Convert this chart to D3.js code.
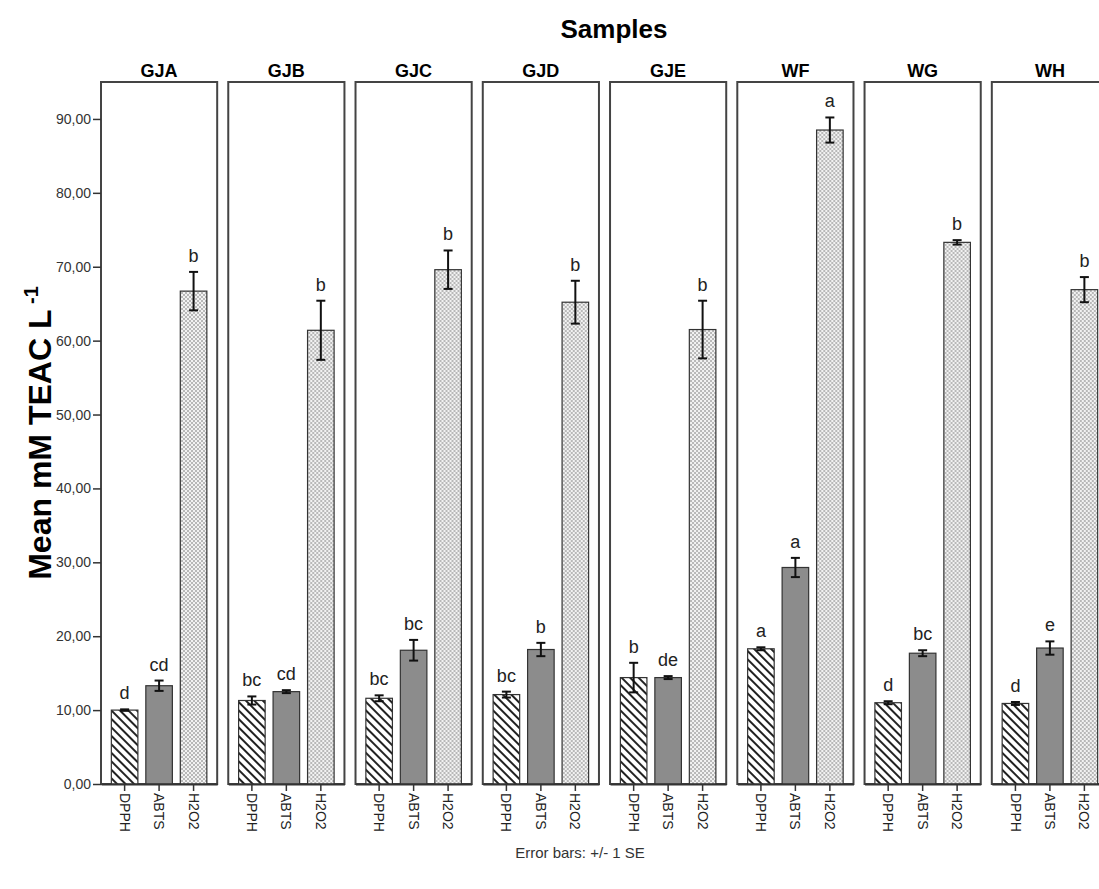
<!DOCTYPE html>
<html>
<head>
<meta charset="utf-8">
<script src="https://cdn.jsdelivr.net/npm/d3@7"></script>
<style>
  body { margin: 0; background: #fff; }
  svg { display: block; font-family: "Liberation Sans", Arial, sans-serif; }
</style>
</head>
<body>
<svg id="chart" width="1099" height="889"></svg>
<script>
const samples = ["GJA", "GJB", "GJC", "GJD", "GJE", "WF", "WG", "WH"]
const methods = ["DPPH", "ABTS", "H2O2"]

const dpphMean = [10.0, 11.3, 11.6, 12.1, 14.4, 18.3, 11.0, 10.9]
const dpphSE = [0.1, 0.55, 0.4, 0.4, 2.0, 0.2, 0.2, 0.2]
const abtsMean = [13.3, 12.5, 18.1, 18.2, 14.4, 29.3, 17.7, 18.4]
const abtsSE = [0.7, 0.2, 1.4, 0.9, 0.2, 1.3, 0.4, 0.9]
const h2o2Mean = [66.7, 61.4, 69.6, 65.2, 61.5, 88.5, 73.3, 66.9]
const h2o2SE = [2.6, 4.0, 2.6, 2.9, 3.9, 1.7, 0.3, 1.7]

const dpphLetters = ["d", "bc", "bc", "bc", "b", "a", "d", "d"]
const abtsLetters = ["cd", "cd", "bc", "b", "de", "a", "bc", "e"]
const h2o2Letters = ["b", "b", "b", "b", "b", "a", "b", "b"]

const yTicks = [0, 10, 20, 30, 40, 50, 60, 70, 80, 90]

// build rows from the arrays
let data = []
samples.forEach((s, i) => {
  data.push({ sample: s, method: "DPPH", mean: dpphMean[i], se: dpphSE[i], letter: dpphLetters[i] })
  data.push({ sample: s, method: "ABTS", mean: abtsMean[i], se: abtsSE[i], letter: abtsLetters[i] })
  data.push({ sample: s, method: "H2O2", mean: h2o2Mean[i], se: h2o2SE[i], letter: h2o2Letters[i] })
})

const margin = { top: 82, bottom: 105, left: 101 }
const width = 1099
const height = 889

let svg = d3.select("#chart")

/**
 * Fill patterns
 */
let defs = svg.append("defs")
let hatch = defs.append("pattern")
  .attr("id", "hatch")
  .attr("patternUnits", "userSpaceOnUse")
  .attr("width", 6)
  .attr("height", 6)
  .attr("patternTransform", "rotate(45)")
hatch.append("rect").attr("width", 6).attr("height", 6).attr("fill", "#fff")
hatch.append("line")
  .attr("x1", 0).attr("y1", 3).attr("x2", 6).attr("y2", 3)
  .attr("stroke", "#222").attr("stroke-width", 2)

let dots = defs.append("pattern")
  .attr("id", "dots")
  .attr("patternUnits", "userSpaceOnUse")
  .attr("width", 4)
  .attr("height", 4)
dots.append("rect").attr("width", 4).attr("height", 4).attr("fill", "#f2f2f2")
dots.append("rect").attr("width", 2).attr("height", 2).attr("fill", "#b8b8b8")
dots.append("rect").attr("x", 2).attr("y", 2).attr("width", 2).attr("height", 2).attr("fill", "#b8b8b8")

const fills = { DPPH: "url(#hatch)", ABTS: "#8c8c8c", H2O2: "url(#dots)" }

/**
 * Scales
 */
const panelScale = d3.scaleBand()
  .domain(samples)
  .range([margin.left, 1108])
  .paddingInner(0.087)
  .paddingOuter(0)

const xScale = d3.scaleBand()
  .domain(methods)
  .range([0, panelScale.bandwidth()])
  .paddingInner(0.23)
  .paddingOuter(0.3)

const yScale = d3.scaleLinear()
  .domain([0, 95])
  .range([height - margin.bottom, margin.top])

/**
 * Panels
 */
let panels = svg.selectAll(".panel")
  .data(samples)
  .enter()
  .append("g")
  .attr("class", "panel")
  .attr("transform", (d) => `translate(${panelScale(d)},0)`)

panels.append("rect")
  .attr("x", 0)
  .attr("y", margin.top)
  .attr("width", panelScale.bandwidth())
  .attr("height", yScale(0) - margin.top)
  .attr("fill", "none")
  .attr("stroke", "#444")
  .attr("stroke-width", 2)

panels.append("text")
  .attr("x", panelScale.bandwidth() / 2)
  .attr("y", 77)
  .attr("text-anchor", "middle")
  .attr("font-weight", "bold")
  .attr("font-size", 18)
  .text((d) => d)

// bars
panels.each(function (s) {
  let g = d3.select(this)
  let rows = data.filter((d) => d.sample === s)

  g.selectAll(".bar")
    .data(rows)
    .enter()
    .append("rect")
    .attr("class", "bar")
    .attr("x", (d) => xScale(d.method))
    .attr("y", (d) => yScale(d.mean))
    .attr("width", xScale.bandwidth())
    .attr("height", (d) => yScale(0) - yScale(d.mean))
    .attr("fill", (d) => fills[d.method])
    .attr("stroke", "#333")
    .attr("stroke-width", 1.2)

  let cx = (d) => xScale(d.method) + xScale.bandwidth() / 2
  let err = g.selectAll(".err").data(rows).enter().append("g").attr("class", "err")
  err.append("line")
    .attr("x1", cx).attr("x2", cx)
    .attr("y1", (d) => yScale(d.mean - d.se))
    .attr("y2", (d) => yScale(d.mean + d.se))
    .attr("stroke", "#111").attr("stroke-width", 2)
  err.append("line")
    .attr("x1", (d) => cx(d) - 4.5).attr("x2", (d) => cx(d) + 4.5)
    .attr("y1", (d) => yScale(d.mean + d.se)).attr("y2", (d) => yScale(d.mean + d.se))
    .attr("stroke", "#111").attr("stroke-width", 2)
  err.append("line")
    .attr("x1", (d) => cx(d) - 4.5).attr("x2", (d) => cx(d) + 4.5)
    .attr("y1", (d) => yScale(d.mean - d.se)).attr("y2", (d) => yScale(d.mean - d.se))
    .attr("stroke", "#111").attr("stroke-width", 2)

  g.selectAll(".letter")
    .data(rows)
    .enter()
    .append("text")
    .attr("class", "letter")
    .attr("x", cx)
    .attr("y", (d) => yScale(d.mean + d.se) - 10)
    .attr("text-anchor", "middle")
    .attr("font-size", 18)
    .attr("fill", "#222")
    .text((d) => d.letter)

  // x axis of the panel
  let xAxis = d3.axisBottom(xScale).tickSize(7).tickSizeOuter(0)
  let ax = g.append("g")
    .attr("transform", `translate(0,${yScale(0)})`)
    .call(xAxis)
  ax.select(".domain").attr("stroke", "#333").attr("stroke-width", 2)
  ax.selectAll(".tick line").attr("stroke", "#333").attr("stroke-width", 1.5)
  ax.selectAll(".tick text")
    .attr("font-size", 14)
    .attr("font-family", "Liberation Sans, Arial, sans-serif")
    .attr("fill", "#222")
    .attr("text-anchor", "start")
    .attr("transform", "rotate(90)")
    .attr("x", 9)
    .attr("y", 0)
    .attr("dy", "0.35em")
})

/**
 * y axis
 */
let yAxis = d3.axisLeft(yScale)
  .tickValues(yTicks)
  .tickSize(8)
  .tickSizeOuter(0)
  .tickFormat((d) => d3.format(".2f")(d).replace(".", ","))

let gy = svg.append("g")
  .attr("transform", `translate(${margin.left},0)`)
  .call(yAxis)
gy.select(".domain").remove()
gy.selectAll(".tick line").attr("stroke", "#333").attr("stroke-width", 1.5)
gy.selectAll(".tick text")
  .attr("font-size", 14)
  .attr("font-family", "Liberation Sans, Arial, sans-serif")
  .attr("fill", "#333")
  .attr("x", -10)

/**
 * Titles
 */
svg.append("text")
  .attr("x", 614)
  .attr("y", 38)
  .attr("text-anchor", "middle")
  .attr("font-weight", "bold")
  .attr("font-size", 26)
  .text("Samples")

let yTitle = svg.append("text")
  .attr("transform", `translate(51,${(margin.top + yScale(0)) / 2}) rotate(-90)`)
  .attr("text-anchor", "middle")
  .attr("font-weight", "bold")
  .attr("font-size", 32)
yTitle.append("tspan").text("Mean mM TEAC L")
yTitle.append("tspan").attr("dy", -13).attr("font-size", 20).text(" -1")

svg.append("text")
  .attr("x", 580)
  .attr("y", 858)
  .attr("text-anchor", "middle")
  .attr("font-size", 15)
  .attr("fill", "#333")
  .text("Error bars: +/- 1 SE")
</script>
</body>
</html>
